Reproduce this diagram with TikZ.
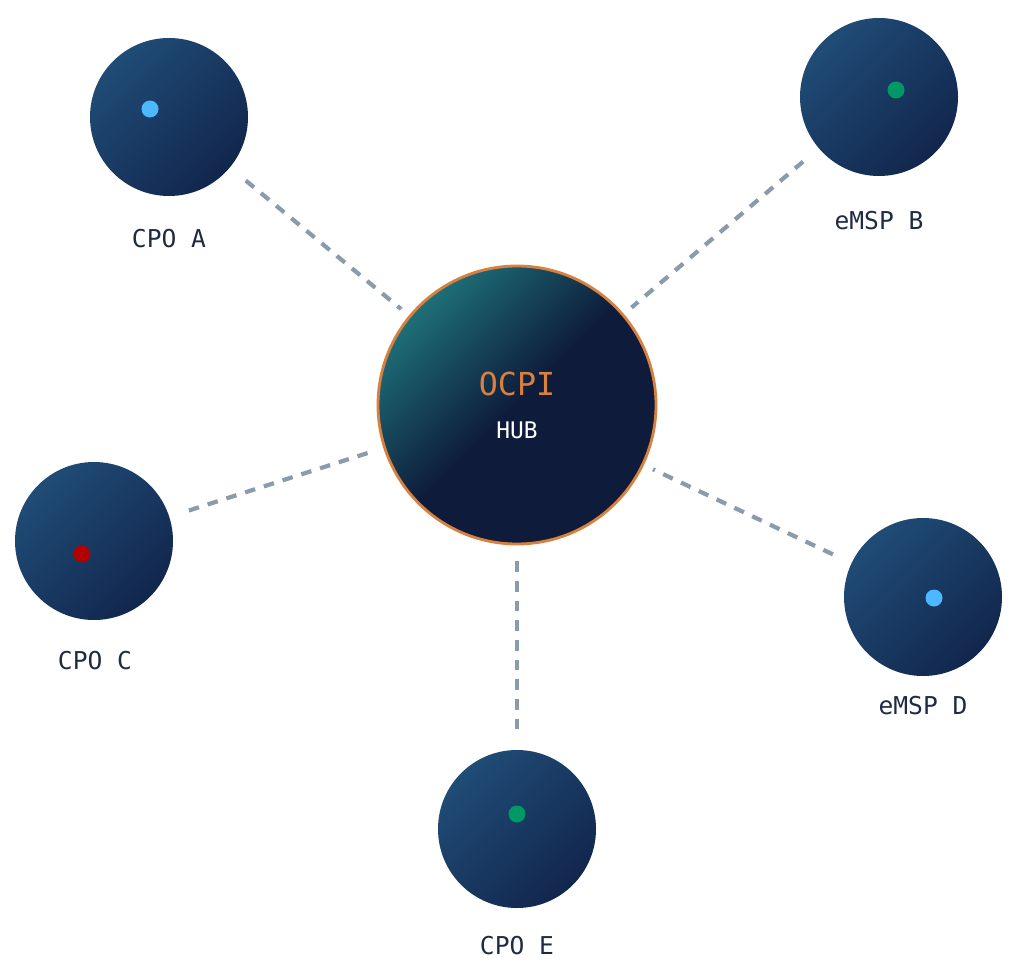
\documentclass[tikz,border=0pt]{standalone}
\usepackage{fontspec}
\setmonofont{DejaVu Sans Mono}
\usetikzlibrary{positioning}
\definecolor{navy}{HTML}{12264D}
\definecolor{navylight}{HTML}{1F4C76}
\definecolor{hubdark}{HTML}{0E1B3A}
\definecolor{hubglow}{HTML}{1E6F78}
\definecolor{orng}{HTML}{D9803F}
\definecolor{link}{HTML}{8A9BAB}
\definecolor{txt}{HTML}{1F2A44}
\begin{document}
\begin{tikzpicture}[x=0.1mm,y=-0.1mm]
\tikzstyle{peer}=[circle,minimum size=15.8mm,inner sep=0pt,top color=navylight,bottom color=navy,shading angle=45]
\tikzstyle{lbl}=[font=\ttfamily\fontsize{7}{8}\selectfont,text=txt]
\tikzstyle{dot}=[circle,minimum size=1.7mm,inner sep=0pt]
\tikzstyle{link}=[draw=link,line width=1.2pt,dash pattern=on 3pt off 2.6pt]
\useasboundingbox (0,0) rectangle (1024,975);
\node[circle,minimum size=27.8mm,inner sep=0pt,draw=orng,line width=0.8pt,top color=hubglow,bottom color=hubdark,middle color=hubdark,shading angle=45] (hub) at (517,405) {};
\node[font=\ttfamily\fontsize{9}{10}\selectfont,text=orng] at (517,384) {OCPI};
\node[font=\ttfamily\fontsize{6.5}{8}\selectfont,text=white] at (517,430) {HUB};
\node[peer] (a) at (169,117) {};
\node[peer] (b) at (879,97) {};
\node[peer] (c) at (94,541) {};
\node[peer] (d) at (923,597) {};
\node[peer] (e) at (517,829) {};
\node[dot,fill=blue!40!cyan!70] at (150,109) {};
\node[dot,fill=teal!80!green] at (896,90) {};
\node[dot,fill=red!70!black] at (82,554) {};
\node[dot,fill=blue!40!cyan!70] at (934,598) {};
\node[dot,fill=teal!80!green] at (517,814) {};
\node[lbl] at (169,239) {CPO A};
\node[lbl] at (879,221) {eMSP B};
\node[lbl] at (95,661) {CPO C};
\node[lbl] at (923,706) {eMSP D};
\node[lbl] at (517,946) {CPO E};
\foreach \p in {a,b,c,d,e}
  \path[link,shorten <=2mm,shorten >=1mm] (\p) -- (hub);
\end{tikzpicture}
\end{document}
